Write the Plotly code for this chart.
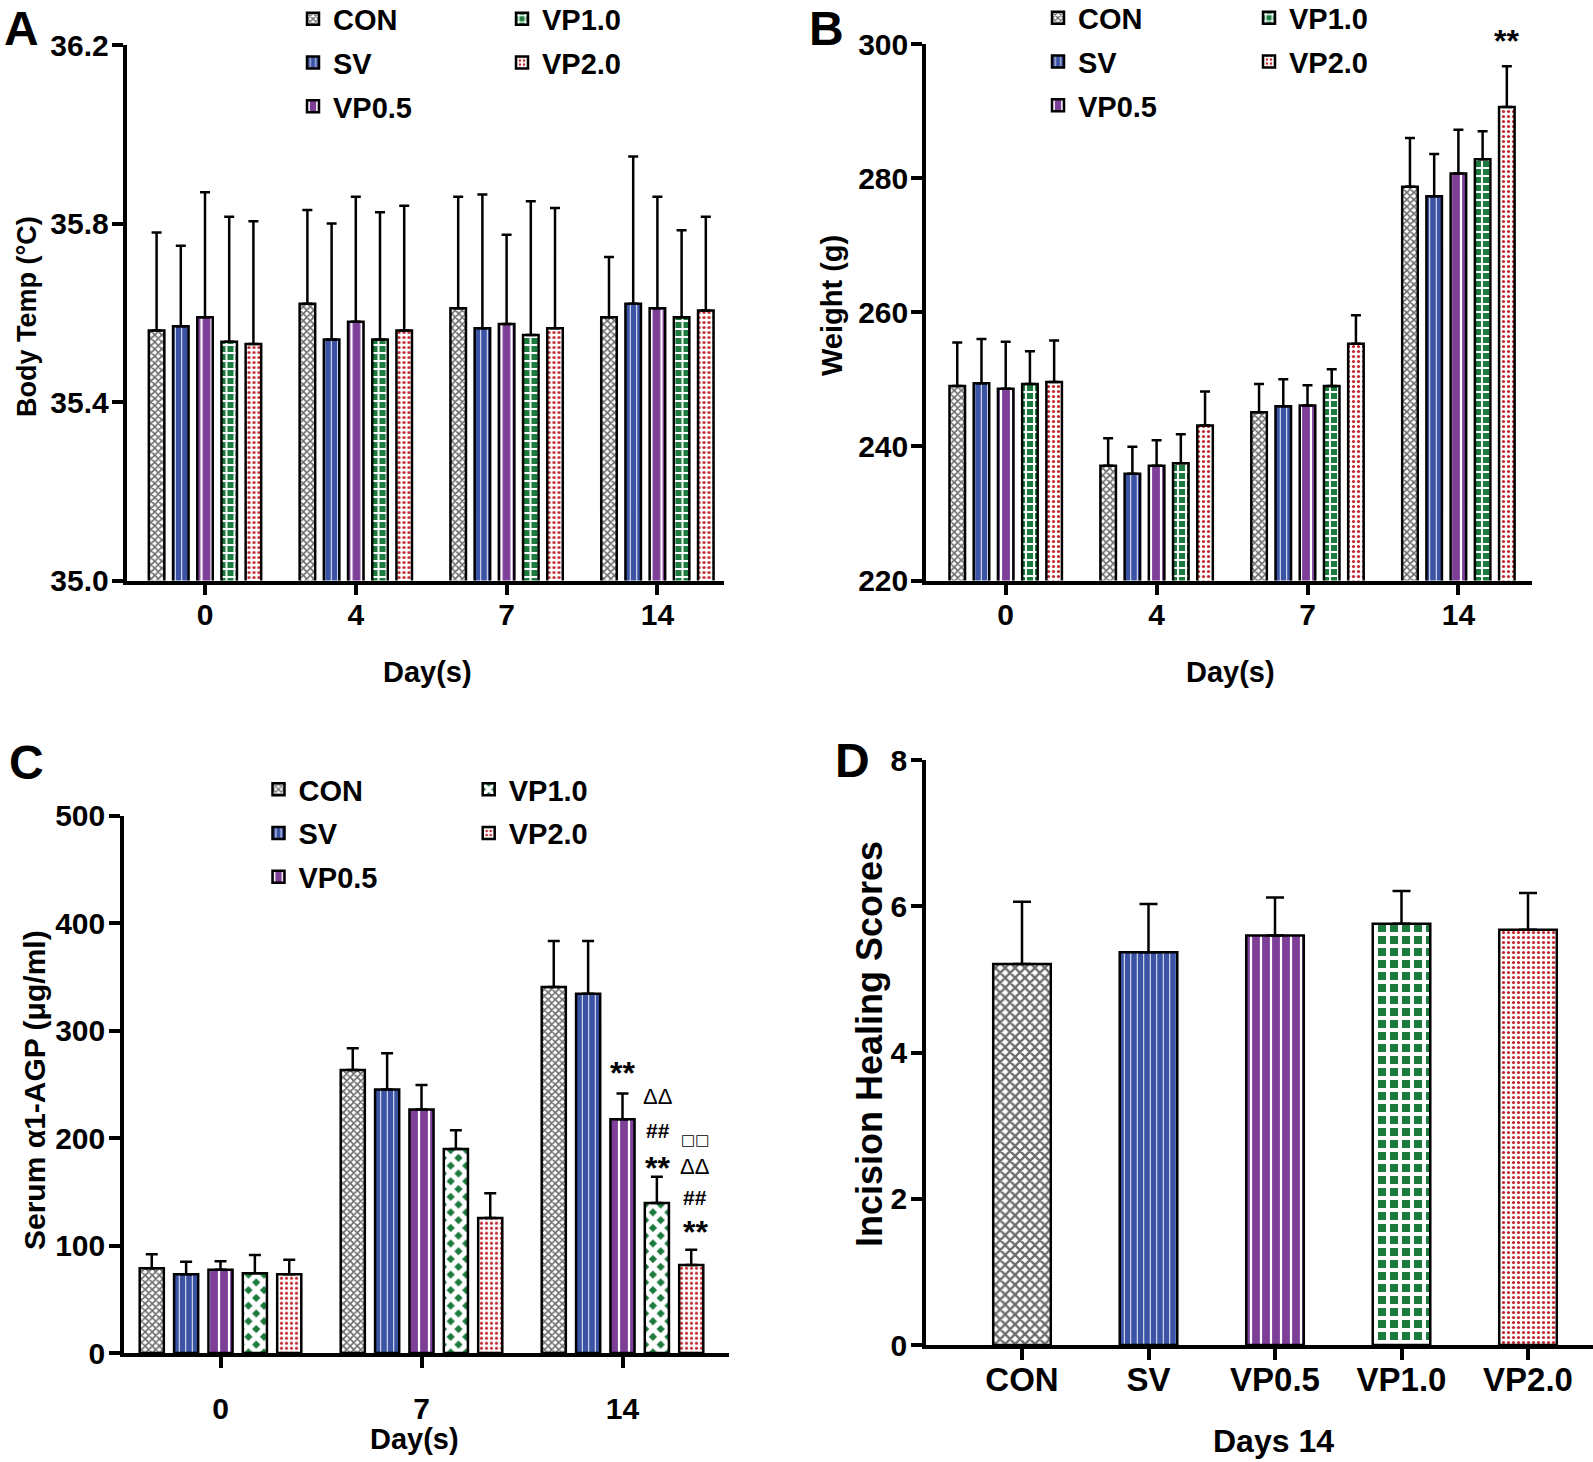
import plotly.graph_objects as go

W, H = 1593, 1462

# ---------------- data ----------------
groups = ["CON", "SV", "VP0.5", "VP1.0", "VP2.0"]
days_ab = ["0", "4", "7", "14"]
days_c = ["0", "7", "14"]

# Panel A: body temperature (mean, SD)
temp_con = [35.56, 35.62, 35.61, 35.59]
temp_sv = [35.57, 35.54, 35.565, 35.62]
temp_vp05 = [35.59, 35.58, 35.575, 35.61]
temp_vp10 = [35.535, 35.54, 35.55, 35.59]
temp_vp20 = [35.53, 35.56, 35.565, 35.605]
temp_con_sd = [0.22, 0.21, 0.25, 0.135]
temp_sv_sd = [0.18, 0.26, 0.30, 0.33]
temp_vp05_sd = [0.28, 0.28, 0.20, 0.25]
temp_vp10_sd = [0.28, 0.285, 0.30, 0.195]
temp_vp20_sd = [0.275, 0.28, 0.27, 0.21]

# Panel B: weight (g)
wt_con = [249.0, 237.1, 245.1, 278.7]
wt_sv = [249.4, 235.9, 246.0, 277.3]
wt_vp05 = [248.6, 237.1, 246.1, 280.7]
wt_vp10 = [249.3, 237.5, 249.0, 282.8]
wt_vp20 = [249.6, 243.1, 255.3, 290.6]
wt_con_sd = [6.5, 4.1, 4.2, 7.3]
wt_sv_sd = [6.6, 4.05, 4.0, 6.3]
wt_vp05_sd = [7.0, 3.8, 3.0, 6.5]
wt_vp10_sd = [4.9, 4.3, 2.5, 4.2]
wt_vp20_sd = [6.2, 5.1, 4.25, 6.1]

# Panel C: serum alpha1-AGP (ug/ml)
agp_con = [78.9, 263.4, 340.5]
agp_sv = [73.3, 245.1, 334.3]
agp_vp05 = [77.4, 226.5, 217.5]
agp_vp10 = [74.3, 189.8, 139.7]
agp_vp20 = [73.3, 125.7, 82.0]
agp_con_sd = [13.0, 20.2, 42.8]
agp_sv_sd = [11.5, 33.8, 49.0]
agp_vp05_sd = [8.0, 23.0, 23.9]
agp_vp10_sd = [17.0, 17.5, 24.2]
agp_vp20_sd = [13.4, 23.0, 14.0]

# Panel D: incision healing scores at day 14
heal_mean = [5.21, 5.37, 5.60, 5.76, 5.68]
heal_sd = [0.85, 0.66, 0.52, 0.45, 0.50]

# significance marks (group, day index, stacked labels bottom->top)
sig_b = [("VP2.0", 3, ["**"])]
sig_c = [("VP0.5", 2, ["**"]),
         ("VP1.0", 2, ["**", "##", "ΔΔ"]),
         ("VP2.0", 2, ["**", "##", "ΔΔ", "□□"])]

# ---------------- styles ----------------
SANS = "Liberation Sans, Arial, Helvetica"
BLUE, PURPLE, GREEN, RED, GRAY = "#3A53A4", "#7D3F98", "#1B7A3C", "#C1272D", "#6E6E6E"

# vertical pixel offsets of stacked significance marks above each error bar
sig_shift = {"B-VP2.0": [31], "C-VP0.5": [27], "C-VP1.0": [15, 46, 80],
             "C-VP2.0": [24, 52, 83, 110]}
sig_xshift = {"B-VP2.0": 0, "C-VP0.5": 0, "C-VP1.0": 1, "C-VP2.0": 4}


def pattern(g, panel):
    if g == "CON":
        return dict(shape="x", fgcolor=GRAY, bgcolor="white", size=7 if panel == "D" else 5,
                    solidity=0.55, fillmode="replace")
    if g == "SV":
        return dict(shape="|", fgcolor="white", bgcolor=BLUE, size=6.5, solidity=0.15,
                    fillmode="replace")
    if g == "VP0.5":
        return dict(shape="|", fgcolor="white", bgcolor=PURPLE, size=10, solidity=0.22,
                    fillmode="replace")
    if g == "VP1.0":
        if panel == "C":
            return dict(shape="x", fgcolor="white", bgcolor=GREEN, size=11, solidity=0.72,
                        fillmode="replace")
        if panel == "D":
            return dict(shape="+", fgcolor="white", bgcolor=GREEN, size=12, solidity=0.55,
                        fillmode="replace")
        return dict(shape="+", fgcolor="white", bgcolor=GREEN, size=8, solidity=0.42,
                    fillmode="replace")
    return dict(shape=".", fgcolor=RED, bgcolor="white", size=5, solidity=0.32, fillmode="replace")


fig = go.Figure()


def add_grouped(means, sds, xa, ya, pitch, bw, panel, legend_a, legend_b, capw):
    for i, g in enumerate(groups):
        m, s = means[i], sds[i]
        xs = [k + (i - 2) * pitch for k in range(len(m))]
        fig.add_trace(go.Bar(
            x=xs, y=m, width=bw, name=g,
            xaxis=xa, yaxis=ya,
            legend=legend_a if i < 3 else legend_b,
            legendgroup=panel + g,
            marker=dict(pattern=pattern(g, panel), line=dict(color="black", width=2.5)),
            error_y=dict(type="data", symmetric=False, array=s, arrayminus=[0] * len(s),
                         color="black", thickness=2.5, width=capw),
            hoverinfo="skip"))


PITCH_AB, BW_AB = 0.1605, 0.103
PITCH_C, BW_C = 0.171, 0.12

add_grouped([temp_con, temp_sv, temp_vp05, temp_vp10, temp_vp20],
            [temp_con_sd, temp_sv_sd, temp_vp05_sd, temp_vp10_sd, temp_vp20_sd],
            "x", "y", PITCH_AB, BW_AB, "A", "legend", "legend2", 5)
add_grouped([wt_con, wt_sv, wt_vp05, wt_vp10, wt_vp20],
            [wt_con_sd, wt_sv_sd, wt_vp05_sd, wt_vp10_sd, wt_vp20_sd],
            "x2", "y2", PITCH_AB, BW_AB, "B", "legend3", "legend4", 5)
add_grouped([agp_con, agp_sv, agp_vp05, agp_vp10, agp_vp20],
            [agp_con_sd, agp_sv_sd, agp_vp05_sd, agp_vp10_sd, agp_vp20_sd],
            "x3", "y3", PITCH_C, BW_C, "C", "legend5", "legend6", 6)

for i, g in enumerate(groups):
    fig.add_trace(go.Bar(
        x=[i], y=[heal_mean[i]], width=0.455, name=g, showlegend=False,
        xaxis="x4", yaxis="y4",
        marker=dict(pattern=pattern(g, "D"), line=dict(color="black", width=2.5)),
        error_y=dict(type="data", symmetric=False, array=[heal_sd[i]], arrayminus=[0],
                     color="black", thickness=2.5, width=9),
        hoverinfo="skip"))

# ---------------- axes ----------------
def dom_x(a, b):
    return [a / W, b / W]


def dom_y(top, bottom):
    return [1 - bottom / H, 1 - top / H]


def xrange_for(left_px, right_px, first_tick_px, spacing_px):
    return [(left_px - first_tick_px) / spacing_px, (right_px - first_tick_px) / spacing_px]


axis_common = dict(showline=True, linecolor="black", linewidth=3.5, ticks="outside",
                   ticklen=11, tickwidth=3.5, tickcolor="black", showgrid=False, zeroline=False,
                   fixedrange=True, automargin=False)
tick_font = dict(family=SANS, size=30, color="black", weight="bold")

A_L, A_R = 126.5, 724
B_L, B_R = 926, 1532
C_L, C_R = 124, 729
D_L, D_R = 926, 1593

fig.update_layout(
    xaxis=dict(axis_common, domain=dom_x(A_L, A_R), range=xrange_for(A_L, A_R, 205, 150.8),
               anchor="y", tickvals=list(range(len(days_ab))), ticktext=days_ab,
               tickfont=tick_font, ticklabelstandoff=-6),
    yaxis=dict(axis_common, domain=dom_y(45, 580.5), range=[35.0, 36.2], anchor="x",
               tickvals=[35.0, 35.4, 35.8, 36.2], tickformat=".1f", tickfont=tick_font,
               ticklabelstandoff=-3),
    xaxis2=dict(axis_common, domain=dom_x(B_L, B_R), range=xrange_for(B_L, B_R, 1005.7, 150.9),
                anchor="y2", tickvals=list(range(len(days_ab))), ticktext=days_ab,
                tickfont=tick_font, ticklabelstandoff=-6),
    yaxis2=dict(axis_common, domain=dom_y(44, 580.5), range=[220, 300], anchor="x2",
                tickvals=[220, 240, 260, 280, 300], tickfont=tick_font, ticklabelstandoff=-3),
    xaxis3=dict(axis_common, domain=dom_x(C_L, C_R), range=xrange_for(C_L, C_R, 220.5, 201),
                anchor="y3", tickvals=list(range(len(days_c))), ticktext=days_c,
                tickfont=tick_font, ticklabelstandoff=15),
    yaxis3=dict(axis_common, domain=dom_y(815.7, 1353), range=[0, 500], anchor="x3",
                tickvals=[0, 100, 200, 300, 400, 500], tickfont=tick_font, ticklabelstandoff=-2),
    xaxis4=dict(axis_common, domain=dom_x(D_L, D_R), range=xrange_for(D_L, D_R, 1022, 126.5),
                anchor="y4", tickvals=list(range(len(groups))), ticktext=groups,
                tickfont=dict(family=SANS, size=33, color="black", weight="bold"),
                ticklabelstandoff=-8),
    yaxis4=dict(axis_common, domain=dom_y(760, 1345), range=[0, 8], anchor="x4",
                tickvals=[0, 2, 4, 6, 8], tickfont=tick_font, ticklabelstandoff=-2),
)

# ---------------- legends ----------------
leg_font = dict(family=SANS, size=29, color="black", weight="bold")


def leg(xpx, ypx):
    return dict(x=xpx / W, y=1 - ypx / H, xanchor="left", yanchor="top", font=leg_font,
                bgcolor="rgba(0,0,0,0)", borderwidth=0, orientation="v",
                itemclick=False, itemdoubleclick=False, tracegroupgap=3)


fig.update_layout(
    legend=leg(293, -6.5), legend2=leg(502, -6.5),
    legend3=leg(1038, -7.5), legend4=leg(1249, -7.5),
    legend5=leg(258.5, 764), legend6=leg(468.7, 764),
)

# ---------------- text ----------------
ann = []


def label(x, y, text, size, family=SANS, angle=0, weight="bold"):
    ann.append(dict(x=x / W, y=1 - y / H, xref="paper", yref="paper", text=text,
                    showarrow=False, textangle=angle,
                    font=dict(family=family, size=size, color="black", weight=weight),
                    xanchor="center", yanchor="middle"))


label(21, 28, "A", 48)
label(826, 28, "B", 48)
label(26, 762, "C", 48)
label(852, 760, "D", 48)

label(428, 672, "Day(s)", 29)
label(1230, 672, "Day(s)", 29)
label(414, 1439, "Day(s)", 29)
label(1273, 1441, "Days 14", 32)

label(27, 317, "Body Temp (°C)", 27, angle=-90)
label(832, 306, "Weight (g)", 29, angle=-90)
label(34, 1090, "Serum α1-AGP (μg/ml)", 30, angle=-90)
label(869, 1044, "Incision Healing Scores", 36, angle=-90)

SIG_FONT = {"**": (SANS, 32, "bold", -6), "##": (SANS, 21, "bold", 0),
            "ΔΔ": (SANS, 22, "normal", 0), "□□": ("DejaVu Sans", 15, "bold", 0)}


def sig_marks(panel, items, means, sds, pitch, xa, ya):
    for g, k, labels in items:
        i = groups.index(g)
        top = means[i][k] + sds[i][k]
        key = panel + "-" + g
        for j, t in enumerate(labels):
            fam, size, wt, adj = SIG_FONT[t]
            ann.append(dict(x=k + (i - 2) * pitch, y=top, xref=xa, yref=ya, text=t,
                            showarrow=False, xanchor="center", yanchor="middle",
                            yshift=sig_shift[key][j] + adj, xshift=sig_xshift[key],
                            font=dict(family=fam, size=size, color="black", weight=wt)))


sig_marks("B", sig_b, [wt_con, wt_sv, wt_vp05, wt_vp10, wt_vp20],
          [wt_con_sd, wt_sv_sd, wt_vp05_sd, wt_vp10_sd, wt_vp20_sd], PITCH_AB, "x2", "y2")
sig_marks("C", sig_c, [agp_con, agp_sv, agp_vp05, agp_vp10, agp_vp20],
          [agp_con_sd, agp_sv_sd, agp_vp05_sd, agp_vp10_sd, agp_vp20_sd], PITCH_C, "x3", "y3")

fig.update_layout(
    annotations=ann,
    barmode="overlay",
    width=W, height=H,
    margin=dict(l=0, r=0, t=0, b=0, autoexpand=False),
    paper_bgcolor="white", plot_bgcolor="white",
    font=dict(family=SANS, color="black"),
)

fig.write_html("out.html", config={"displayModeBar": False},
               post_script="document.body.style.margin='0';document.body.style.overflow='hidden';")
